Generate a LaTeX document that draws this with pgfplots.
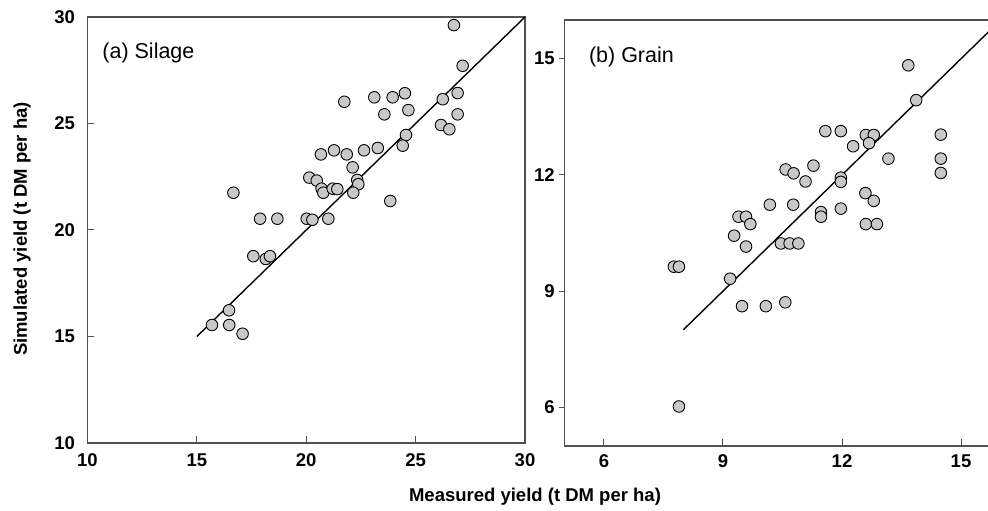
\documentclass[border=0pt]{standalone}
\usepackage{fontspec}
\setmainfont{Liberation Sans}
\usepackage{pgfplots}
\usepackage{pgfplotstable}
\pgfplotsset{compat=1.18}
\definecolor{ptfill}{HTML}{C8C8C8}
\definecolor{framec}{HTML}{505050}

% measured vs simulated, silage (t DM/ha)
\pgfplotstableread{
x y
26.75 29.62
27.15 27.71
26.92 26.43
26.24 26.14
26.92 25.43
26.16 24.93
26.54 24.73
21.74 26.02
23.11 26.23
23.95 26.23
24.51 26.42
23.57 25.43
24.67 25.63
24.56 24.46
24.41 23.96
20.67 23.55
21.27 23.74
21.85 23.55
22.64 23.74
23.27 23.85
22.12 22.94
20.14 22.46
20.48 22.32
22.33 22.35
22.38 22.15
20.70 21.94
20.78 21.75
21.21 21.94
21.42 21.92
22.15 21.75
16.67 21.75
23.84 21.36
17.89 20.53
18.68 20.53
20.02 20.53
20.28 20.48
21.01 20.53
17.58 18.77
18.15 18.64
18.34 18.77
16.47 16.23
15.69 15.54
16.48 15.54
17.09 15.13
}\silage

% grain
\pgfplotstableread{
x y
13.67 14.83
13.87 13.93
14.49 13.04
14.49 12.42
14.49 12.05
11.58 13.13
11.97 13.13
12.60 13.03
12.80 13.03
12.68 12.82
12.28 12.74
13.17 12.42
11.28 12.24
10.58 12.14
10.78 12.04
11.08 11.83
11.97 11.93
11.97 11.82
12.59 11.53
12.80 11.33
10.18 11.23
10.77 11.23
11.97 11.13
11.47 11.04
11.47 10.92
9.39 10.92
9.58 10.92
9.69 10.73
12.60 10.73
12.88 10.73
9.28 10.43
10.46 10.23
10.68 10.23
10.90 10.23
9.58 10.15
7.76 9.63
7.89 9.63
9.18 9.32
9.48 8.61
10.08 8.61
10.57 8.71
7.89 6.02
}\grain

\pgfplotsset{
  panel/.style={scale only axis, anchor=south west,
    axis line style={framec, line width=1.2pt},
    tick style={framec, line width=1pt}, major tick length=6.5pt,
    tick align=inside, xtick pos=bottom, ytick pos=left,
    tick label style={font=\fontsize{18.5}{21}\selectfont\bfseries},
    /pgf/number format/assume math mode=true},
  pts/.style={only marks, mark=*, mark size=5.8pt,
    mark options={fill=ptfill, draw=black, line width=0.9pt}},
  oneone/.style={black, line width=1.4pt, no marks},
}

\begin{document}
\begin{tikzpicture}
\begin{axis}[panel, at={(87.5pt,68pt)}, width=437.5pt, height=426pt,
  xmin=10, xmax=30, ymin=10, ymax=30,
  xtick={10,15,...,30}, ytick={10,15,...,30},
  yticklabel style={xshift=-9pt}, xticklabel style={yshift=-7pt}]
\addplot[oneone] coordinates {(15,15) (30,30)};
\addplot[pts] table {\silage};
\node[anchor=west, font=\fontsize{21.5}{24}\selectfont] at (rel axis cs:0.026,0.915) {(a) Silage};
\end{axis}

\begin{axis}[panel, at={(564.3pt,65pt)}, width=423.7pt, height=426pt,
  xmin=5, xmax=15.68, ymin=5, ymax=16,
  axis x line*=box, axis y line*=left,
  xtick={6,9,12,15}, ytick={6,9,12,15},
  every major y tick/.append style={xshift=-5.5pt},
  yticklabel style={xshift=-6pt}, xticklabel style={yshift=-5pt}]
\addplot[oneone] coordinates {(8,8) (16,16)};
\addplot[pts] table {\grain};
\node[anchor=west, font=\fontsize{21.5}{24}\selectfont] at (rel axis cs:0.05,0.913) {(b) Grain};
\end{axis}

\node[font=\fontsize{18.5}{21}\selectfont\bfseries] at (535pt,14pt) {Measured yield (t DM per ha)};
\node[rotate=90, font=\fontsize{18.5}{21}\selectfont\bfseries] at (22pt,282pt) {Simulated yield (t DM per ha)};

\pgfresetboundingbox
\path[use as bounding box] (0,0) rectangle (988pt,511pt);
\end{tikzpicture}
\end{document}
